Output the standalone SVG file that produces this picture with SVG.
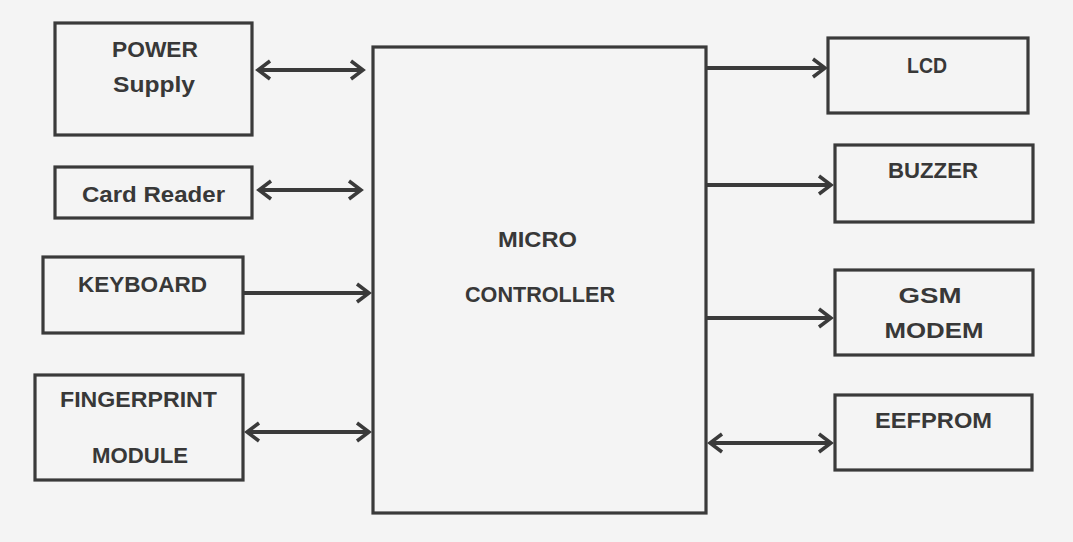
<svg xmlns="http://www.w3.org/2000/svg" width="1073" height="542" viewBox="0 0 1073 542">
  <style>
    .box { fill: none; stroke: #3a3a3a; stroke-width: 3.2; }
    .lbl { font-family: "Liberation Sans", Arial, sans-serif; font-weight: bold; font-size: 22px; fill: #383838; text-anchor: middle; }
    .conn { stroke: #3a3a3a; stroke-width: 4; fill: none; }
  </style>
  <defs>
    <marker id="arr" markerUnits="userSpaceOnUse" viewBox="-16 -12 20 24" refX="0" refY="0" markerWidth="20" markerHeight="24" orient="auto-start-reverse">
      <path d="M-12,-9 L0,0 L-12,9" fill="none" stroke="#3a3a3a" stroke-width="3.5" stroke-linejoin="miter"/>
    </marker>
  </defs>
  <rect x="0" y="0" width="1073" height="542" fill="#f4f4f4"/>

  <g id="power-supply">
    <rect class="box" x="55" y="23" width="197" height="112"/>
    <text class="lbl" x="155" y="57" textLength="86" lengthAdjust="spacingAndGlyphs">POWER</text>
    <text class="lbl" x="154" y="92" textLength="82" lengthAdjust="spacingAndGlyphs">Supply</text>
  </g>
  <g id="card-reader">
    <rect class="box" x="55" y="167" width="197" height="51"/>
    <text class="lbl" x="153.5" y="202" textLength="143" lengthAdjust="spacingAndGlyphs">Card Reader</text>
  </g>
  <g id="keyboard">
    <rect class="box" x="43" y="257" width="200" height="76"/>
    <text class="lbl" x="142.5" y="292" textLength="129" lengthAdjust="spacingAndGlyphs">KEYBOARD</text>
  </g>
  <g id="fingerprint-module">
    <rect class="box" x="35" y="375" width="208" height="105"/>
    <text class="lbl" x="138.5" y="407" textLength="157" lengthAdjust="spacingAndGlyphs">FINGERPRINT</text>
    <text class="lbl" x="140" y="463" textLength="96" lengthAdjust="spacingAndGlyphs">MODULE</text>
  </g>
  <g id="micro-controller">
    <rect class="box" x="373" y="47" width="333" height="466"/>
    <text class="lbl" x="537.5" y="247" textLength="79" lengthAdjust="spacingAndGlyphs">MICRO</text>
    <text class="lbl" x="540" y="302" textLength="150" lengthAdjust="spacingAndGlyphs">CONTROLLER</text>
  </g>
  <g id="lcd">
    <rect class="box" x="828" y="38" width="200" height="75"/>
    <text class="lbl" x="927" y="73" textLength="40" lengthAdjust="spacingAndGlyphs">LCD</text>
  </g>
  <g id="buzzer">
    <rect class="box" x="835" y="145" width="198" height="77"/>
    <text class="lbl" x="933" y="178" textLength="90" lengthAdjust="spacingAndGlyphs">BUZZER</text>
  </g>
  <g id="gsm-modem">
    <rect class="box" x="835" y="270" width="198" height="85"/>
    <text class="lbl" x="930" y="303" textLength="63" lengthAdjust="spacingAndGlyphs">GSM</text>
    <text class="lbl" x="934" y="338" textLength="99" lengthAdjust="spacingAndGlyphs">MODEM</text>
  </g>
  <g id="eefprom">
    <rect class="box" x="835" y="395" width="197" height="75"/>
    <text class="lbl" x="933.5" y="428" textLength="117" lengthAdjust="spacingAndGlyphs">EEFPROM</text>
  </g>

  <g id="connectors">
    <line class="conn" x1="258" y1="70" x2="363" y2="70" marker-start="url(#arr)" marker-end="url(#arr)"/>
    <line class="conn" x1="259" y1="190" x2="361" y2="190" marker-start="url(#arr)" marker-end="url(#arr)"/>
    <line class="conn" x1="243" y1="293" x2="369" y2="293" marker-end="url(#arr)"/>
    <line class="conn" x1="247" y1="432" x2="369" y2="432" marker-start="url(#arr)" marker-end="url(#arr)"/>
    <line class="conn" x1="706" y1="68" x2="825" y2="68" marker-end="url(#arr)"/>
    <line class="conn" x1="706" y1="185" x2="831" y2="185" marker-end="url(#arr)"/>
    <line class="conn" x1="706" y1="318" x2="831" y2="318" marker-end="url(#arr)"/>
    <line class="conn" x1="710" y1="443" x2="831" y2="443" marker-start="url(#arr)" marker-end="url(#arr)"/>
  </g>
</svg>
